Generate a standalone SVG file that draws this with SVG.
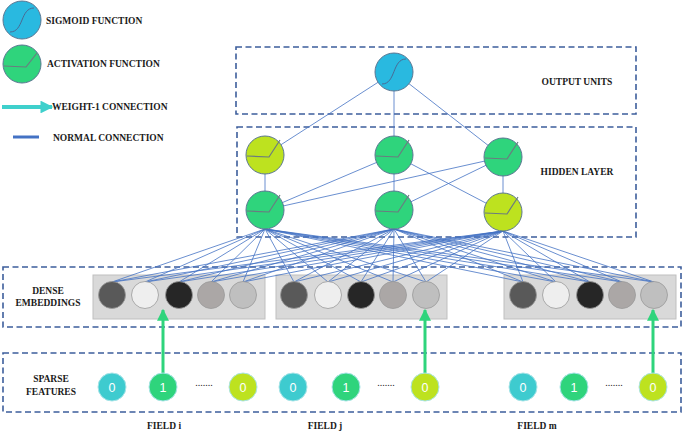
<svg xmlns="http://www.w3.org/2000/svg" width="685" height="434" viewBox="0 0 685 434">
<style>
.t{font-family:"Liberation Serif","Times New Roman",serif;font-weight:bold;font-size:9.5px;fill:#1a1a1a}
.tm{text-anchor:middle}
.box{fill:none;stroke:#3d5e9c;stroke-width:1.6;stroke-dasharray:6,3.5}
.gbox{fill:#d9d9d9;stroke:#bfbfbf;stroke-width:1}
.c{stroke:#4472c4;stroke-width:0.8;fill:none}
.nd{stroke:#5b7692;stroke-width:1}
.sig{fill:#29b9e0}
.grn{fill:#2fd47c}
.yel{fill:#bde21f}
.cur{fill:none;stroke:#4a6a94;stroke-width:1}
.relu{fill:none;stroke:#6b7b80;stroke-width:1.2}
.em{stroke:#999;stroke-width:0.8}
.sp{stroke:#a8e4e8;stroke-width:1}
.num{font-family:"Liberation Sans",Arial,sans-serif;font-size:12.5px;fill:#fff;text-anchor:middle}
.dots{font-family:"Liberation Serif",serif;font-size:10px;fill:#222;text-anchor:middle}
.ga{stroke:#2fd47c;stroke-width:3;fill:none}
</style>
<defs>
<marker id="ah" viewBox="0 0 10 10" refX="9" refY="5" markerWidth="4" markerHeight="4" orient="auto" markerUnits="strokeWidth">
<path d="M0,0 L10,5 L0,10 z" fill="#2fd47c"/>
</marker>
<marker id="ahc" viewBox="0 0 10 10" refX="9" refY="5" markerWidth="3.5" markerHeight="3.2" orient="auto" markerUnits="strokeWidth">
<path d="M0,0 L10,5 L0,10 z" fill="#3fd0cc"/>
</marker>
</defs>

<g id="legend">
<circle cx="22" cy="20" r="19" class="nd sig"/>
<path d="M10,32 C24,32 20,8 34,8" class="cur"/>
<text x="46" y="24" class="t">SIGMOID FUNCTION</text>
<circle cx="22" cy="64" r="19" class="nd grn"/>
<path d="M4,66 L26,67 L37,53" class="relu"/>
<text x="47" y="67" class="t">ACTIVATION FUNCTION</text>
<line x1="2" y1="107" x2="52" y2="107" stroke="#3fd0cc" stroke-width="4" marker-end="url(#ahc)"/>
<text x="52" y="110" class="t">WEIGHT-1 CONNECTION</text>
<line x1="13" y1="137" x2="39" y2="137" stroke="#4472c4" stroke-width="3"/>
<text x="53" y="141" class="t">NORMAL CONNECTION</text>
</g>

<g id="layer-boxes">
<rect x="236" y="47" width="400" height="67" class="box"/>
<text x="577" y="85" class="t tm">OUTPUT UNITS</text>
<rect x="237" y="127" width="399" height="110" class="box"/>
<text x="577" y="175" class="t tm">HIDDEN LAYER</text>
<rect x="3" y="267" width="678" height="60" class="box"/>
<text x="48" y="294" class="t tm">DENSE</text>
<text x="48" y="306" class="t tm">EMBEDDINGS</text>
<rect x="3" y="353" width="678" height="59" class="box"/>
<text x="51" y="382" class="t tm">SPARSE</text>
<text x="51" y="395" class="t tm">FEATURES</text>
<text x="164" y="429" class="t tm">FIELD i</text>
<text x="325" y="429" class="t tm">FIELD j</text>
<text x="537" y="429" class="t tm">FIELD m</text>
</g>

<g id="embedding-boxes">
<rect x="93" y="275" width="172" height="44" class="gbox"/>
<rect x="276" y="275" width="171" height="44" class="gbox"/>
<rect x="504" y="275" width="172" height="44" class="gbox"/>
</g>

<g id="connectors">
<line x1="394" y1="72" x2="265" y2="155" class="c"/>
<line x1="394" y1="72" x2="394" y2="155" class="c"/>
<line x1="394" y1="72" x2="503" y2="157" class="c"/>
<line x1="265" y1="155" x2="265" y2="210" class="c"/>
<line x1="394" y1="155" x2="394" y2="210" class="c"/>
<line x1="503" y1="157" x2="503" y2="212" class="c"/>
<line x1="265" y1="210" x2="394" y2="155" class="c"/>
<line x1="265" y1="210" x2="503" y2="157" class="c"/>
<line x1="394" y1="210" x2="503" y2="157" class="c"/>
<line x1="394" y1="155" x2="503" y2="212" class="c"/>
<g id="h-to-e">
<path class="c" d="M265,229L112,282M265,229L145,282M265,229L179,282M265,229L211,282M265,229L243,282M265,229L294,282M265,229L328,282M265,229L361,282M265,229L393,282M265,229L426,282M265,229L523,282M265,229L556,282M265,229L590,282M265,229L622,282M265,229L654,282"/>
<path class="c" d="M394,229L112,282M394,229L145,282M394,229L179,282M394,229L211,282M394,229L243,282M394,229L294,282M394,229L328,282M394,229L361,282M394,229L393,282M394,229L426,282M394,229L523,282M394,229L556,282M394,229L590,282M394,229L622,282M394,229L654,282"/>
<path class="c" d="M503,231L112,282M503,231L145,282M503,231L179,282M503,231L211,282M503,231L243,282M503,231L294,282M503,231L328,282M503,231L361,282M503,231L393,282M503,231L426,282M503,231L523,282M503,231L556,282M503,231L590,282M503,231L622,282M503,231L654,282"/>
</g>
<line x1="163" y1="373" x2="163" y2="310" class="ga" marker-end="url(#ah)"/>
<line x1="425" y1="373" x2="425" y2="310" class="ga" marker-end="url(#ah)"/>
<line x1="653" y1="373" x2="653" y2="310" class="ga" marker-end="url(#ah)"/>
</g>

<g id="output-node">
<circle cx="394" cy="72" r="19" class="nd sig"/>
<path d="M382,84 C396,84 392,59 406,59" class="cur"/>
</g>
<g id="hidden-1-1"><circle cx="265" cy="155" r="19" class="nd yel"/><path d="M247,156 L269,157 L280,140" class="relu"/></g>
<g id="hidden-1-2"><circle cx="394" cy="155" r="19" class="nd grn"/><path d="M376,156 L398,157 L409,140" class="relu"/></g>
<g id="hidden-1-3"><circle cx="503" cy="157" r="19" class="nd grn"/><path d="M485,158 L507,159 L518,142" class="relu"/></g>
<g id="hidden-2-1"><circle cx="265" cy="210" r="19" class="nd grn"/><path d="M247,211 L269,212 L280,195" class="relu"/></g>
<g id="hidden-2-2"><circle cx="394" cy="210" r="19" class="nd grn"/><path d="M376,211 L398,212 L409,195" class="relu"/></g>
<g id="hidden-2-3"><circle cx="503" cy="212" r="19" class="nd yel"/><path d="M485,213 L507,214 L518,197" class="relu"/></g>

<g id="embed-i">
<circle cx="112" cy="295" r="13.5" fill="#595959" class="em"/>
<circle cx="145" cy="295" r="13.5" fill="#eeeeee" class="em" stroke="#ddd"/>
<circle cx="179" cy="295" r="13.5" fill="#262626" class="em"/>
<circle cx="211" cy="295" r="13.5" fill="#aba7a6" class="em"/>
<circle cx="243" cy="295" r="13.5" fill="#bfbfbf" class="em"/>
</g>
<g id="embed-j">
<circle cx="294" cy="295" r="13.5" fill="#595959" class="em"/>
<circle cx="328" cy="295" r="13.5" fill="#eeeeee" class="em" stroke="#ddd"/>
<circle cx="361" cy="295" r="13.5" fill="#262626" class="em"/>
<circle cx="393" cy="295" r="13.5" fill="#aba7a6" class="em"/>
<circle cx="426" cy="295" r="13.5" fill="#bfbfbf" class="em"/>
</g>
<g id="embed-m">
<circle cx="523" cy="295" r="13.5" fill="#595959" class="em"/>
<circle cx="556" cy="295" r="13.5" fill="#eeeeee" class="em" stroke="#ddd"/>
<circle cx="590" cy="295" r="13.5" fill="#262626" class="em"/>
<circle cx="622" cy="295" r="13.5" fill="#aba7a6" class="em"/>
<circle cx="654" cy="295" r="13.5" fill="#bfbfbf" class="em"/>
</g>

<g id="sparse-i">
<circle cx="112" cy="387" r="14" fill="#3ecbcf" class="sp"/><text x="112" y="391.5" class="num">0</text>
<circle cx="163" cy="387" r="14" fill="#2fd47c" class="sp"/><text x="163" y="391.5" class="num">1</text>
<text x="204" y="386" class="dots">.......</text>
<circle cx="243" cy="387" r="14" fill="#bde21f" class="sp"/><text x="243" y="391.5" class="num">0</text>
</g>
<g id="sparse-j">
<circle cx="293" cy="387" r="14" fill="#3ecbcf" class="sp"/><text x="293" y="391.5" class="num">0</text>
<circle cx="346" cy="387" r="14" fill="#2fd47c" class="sp"/><text x="346" y="391.5" class="num">1</text>
<text x="386" y="386" class="dots">.......</text>
<circle cx="425" cy="387" r="14" fill="#bde21f" class="sp"/><text x="425" y="391.5" class="num">0</text>
</g>
<g id="sparse-m">
<circle cx="523" cy="387" r="14" fill="#3ecbcf" class="sp"/><text x="523" y="391.5" class="num">0</text>
<circle cx="574" cy="387" r="14" fill="#2fd47c" class="sp"/><text x="574" y="391.5" class="num">1</text>
<text x="614" y="386" class="dots">.......</text>
<circle cx="653" cy="387" r="14" fill="#bde21f" class="sp"/><text x="653" y="391.5" class="num">0</text>
</g>
</svg>
